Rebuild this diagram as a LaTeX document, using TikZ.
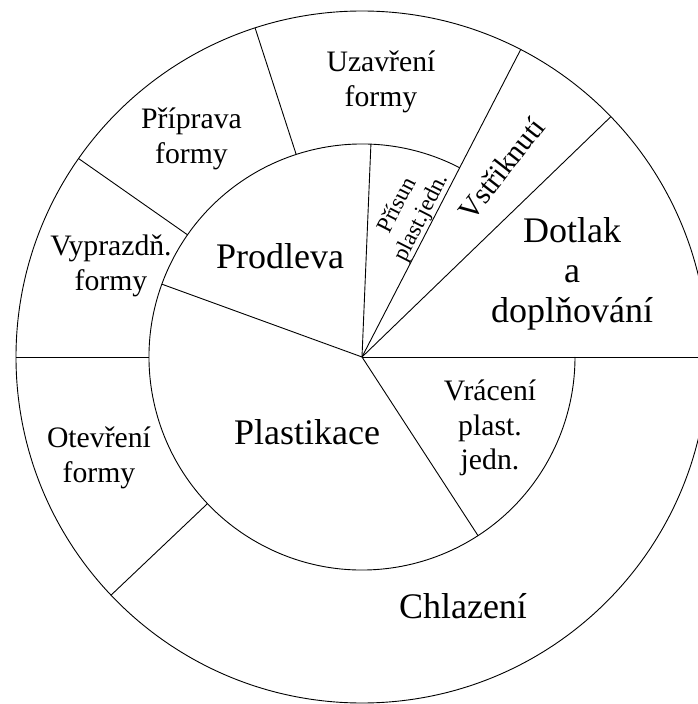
\documentclass[tikz,border=0pt]{standalone}
\usepackage{fontspec}
\setmainfont{Liberation Serif}
\usetikzlibrary{positioning}
\tikzset{
    phase/.style={
           align=center,
           inner sep=0pt,
           font=\fontsize{29.7}{34.5}\selectfont,
           },
    bigphase/.style={
           phase,
           font=\fontsize{36}{40}\selectfont,
           },
    smallphase/.style={
           phase,
           font=\fontsize{23}{27}\selectfont,
           },
    rim/.style={draw=black, line width=0.9pt},
}

\begin{document}
\begin{tikzpicture}[x=1pt,y=1pt]

 \clip (-362,-347) rectangle (336,357);
 \coordinate (C) at (0,0);

 % both circles
 \draw[rim] (C) circle (346);
 \draw[rim] (62.7:213) arc (62.7:360:213);

 % lines across both rings
 \draw[rim] (C) -- (0:346);
 \draw[rim] (C) -- (44:346);
 \draw[rim] (C) -- (62.7:346);

 % inner ring
 \draw[rim] (C) -- (87.6:213);
 \draw[rim] (C) -- (160:213);
 \draw[rim] (C) -- (303:213);

 % outer ring
 \foreach \a in {108,145,180,223.5}
   \draw[rim] (\a:213) -- (\a:346);

 % outer phases
 \node[phase] (UZ) at (19,275) {Uzavření\\formy};
 \node[phase] (PR) at (-170.5,218) {Příprava\\formy};
 \node[phase] (VY) at (-251,91) {Vyprazdň.\\formy};
 \node[phase] (OT) at (-263,-101) {Otevření\\formy};
 \node[bigphase] (CH) at (101,-249) {Chlazení};
 \node[phase, rotate=52] (VS) at (53.5:234) {Vstřiknutí};
 \node[bigphase] (DO) at (210,83) {Dotlak\\a\\doplňování};

 % inner phases
 \node[bigphase] (PD) at (-82,101) {Prodleva};
 \node[bigphase] (PL) at (-55,-75) {Plastikace};
 \node[phase] (VR) at (128,-71) {Vrácení\\plast.\\jedn.};
 \node[smallphase, rotate=63] (PS) at (71.7:153) {Přísun\\plast.jedn.};

\end{tikzpicture}
\end{document}
